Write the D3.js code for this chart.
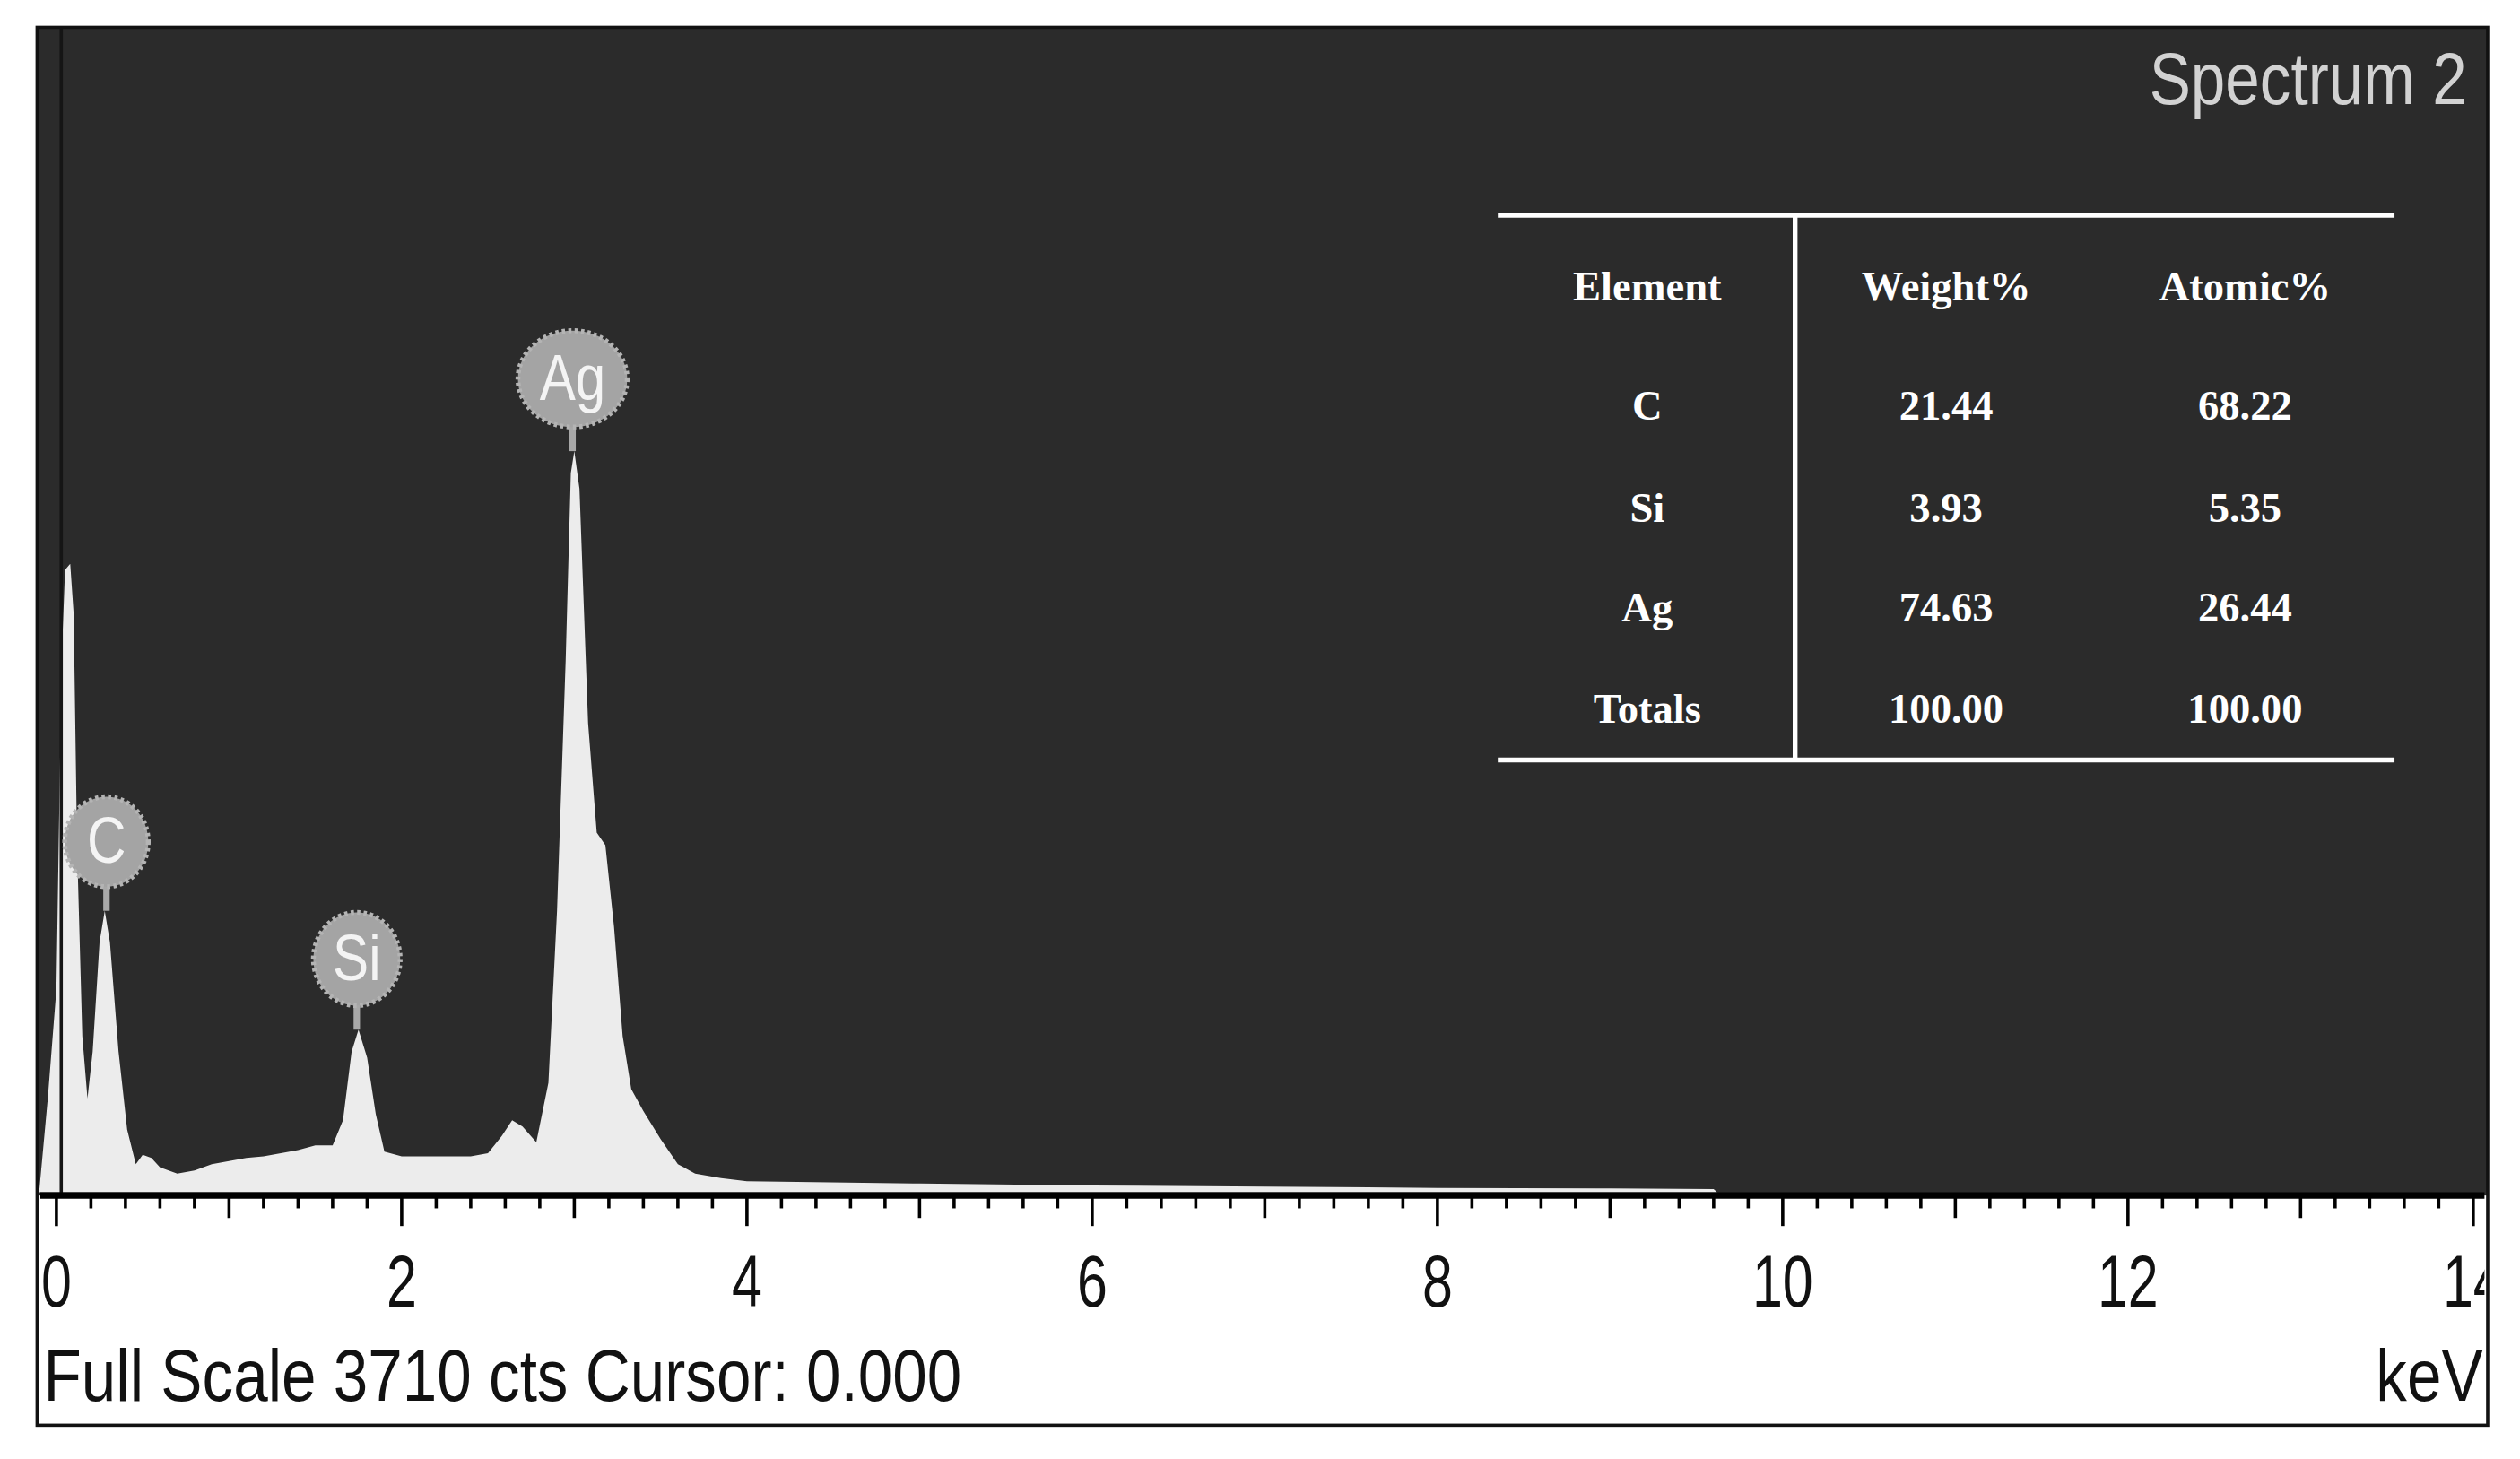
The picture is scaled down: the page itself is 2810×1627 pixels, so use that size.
<!DOCTYPE html>
<html>
<head>
<meta charset="utf-8">
<script src="https://cdn.jsdelivr.net/npm/d3@7"></script>
<style>
  body { margin: 0; background: #fff; }
  svg { display: block; }
</style>
</head>
<body>
<div id="chart"></div>
<script>
// spectrum outline: [keV, counts]
var spectrum = [
  [-0.1, 0], [-0.05, 300], [0.0, 650], [0.03, 1700], [0.05, 1990], [0.08, 2010], [0.1, 1850],
  [0.12, 1100], [0.15, 500], [0.18, 300], [0.21, 450], [0.25, 800], [0.28, 900], [0.31, 800],
  [0.36, 450], [0.41, 200], [0.46, 90], [0.5, 120], [0.55, 110], [0.6, 80], [0.7, 60],
  [0.8, 70], [0.9, 90], [1.0, 100], [1.1, 110], [1.2, 115], [1.3, 125], [1.4, 135],
  [1.5, 150], [1.6, 150], [1.66, 230], [1.71, 450], [1.75, 520], [1.8, 430], [1.85, 250],
  [1.9, 130], [2.0, 115], [2.2, 115], [2.4, 115], [2.5, 125], [2.58, 180], [2.64, 230],
  [2.7, 210], [2.78, 160], [2.85, 350], [2.9, 900], [2.95, 1700], [2.98, 2300], [3.0, 2370],
  [3.03, 2250], [3.08, 1500], [3.13, 1150], [3.18, 1110], [3.23, 850], [3.28, 500],
  [3.33, 330], [3.4, 260], [3.5, 170], [3.6, 90], [3.7, 60], [3.85, 45], [4.0, 35],
  [5.0, 28], [6.0, 22], [7.0, 18], [8.0, 14], [9.0, 12], [9.6, 10], [9.62, 0]
];
var peaks = [
  { el: "C", keV: 0.29, cts: 900, rx: 26, ry: 28 },
  { el: "Si", keV: 1.74, cts: 520, rx: 27, ry: 29 },
  { el: "Ag", keV: 2.99, cts: 2370, rx: 34, ry: 30 }
];
var majorTicks = [0, 2, 4, 6, 8, 10, 12, 14];
var tableHeader = ["Element", "Weight%", "Atomic%"];
var tableRows = [
  ["C", "21.44", "68.22"],
  ["Si", "3.93", "5.35"],
  ["Ag", "74.63", "26.44"],
  ["Totals", "100.00", "100.00"]
];
var fullScale = 3710;

var W = 1568, H = 908;
var svg = d3.select("#chart").append("svg")
  .attr("width", 2810).attr("height", 1627)
  .attr("viewBox", "0 0 " + W + " " + H);

var fL = 23, fR = 1548, fT = 17, axisY = 744, fB = 887;
var x = d3.scaleLinear().domain([0, 14]).range([35, 1539]);
var y = d3.scaleLinear().domain([0, fullScale]).range([742, 20]);
var sans = "Liberation Sans, Arial, sans-serif";

// condensed text: horizontal squeeze like the instrument's font
function narrowText(parent, tx, ty, s, size, anchor, fill, sx) {
  return parent.append("text")
    .attr("transform", "translate(" + tx + "," + ty + ") scale(" + (sx || 0.84) + ",1)")
    .attr("text-anchor", anchor).attr("font-family", sans)
    .attr("font-size", size).attr("fill", fill).text(s);
}

svg.append("rect").attr("x", fL).attr("y", fT).attr("width", fR - fL)
  .attr("height", fB - fT).attr("fill", "#fff");
svg.append("rect").attr("x", fL).attr("y", fT).attr("width", fR - fL)
  .attr("height", axisY - fT).attr("fill", "#2b2b2b");

var plot = svg.append("g");
plot.append("clipPath").attr("id", "clip").append("rect")
  .attr("x", fL + 1).attr("y", fT).attr("width", fR - fL - 2).attr("height", axisY - fT);

var area = d3.area()
  .x(function (d) { return x(d[0]); })
  .y0(y(0)).y1(function (d) { return y(d[1]); });
plot.append("path").datum(spectrum).attr("clip-path", "url(#clip)")
  .attr("d", area).attr("fill", "#ececec");

// zero marker line
plot.append("line").attr("x1", 38).attr("x2", 38).attr("y1", fT).attr("y2", axisY)
  .attr("stroke", "#151515").attr("stroke-width", 2);

// peak labels
var lab = plot.selectAll("g.peak").data(peaks).enter().append("g").attr("class", "peak");
lab.each(function (d) {
  var g = d3.select(this);
  var px = x(d.keV), py = y(d.cts);
  var cy = py - 15 - d.ry;
  g.append("line").attr("x1", px).attr("x2", px).attr("y1", py).attr("y2", cy)
    .attr("stroke", "#a8a8a8").attr("stroke-width", 4);
  g.append("ellipse").attr("cx", px).attr("cy", cy).attr("rx", d.rx).attr("ry", d.ry)
    .attr("fill", "#a4a4a4").attr("stroke", "#b4b4b4").attr("stroke-width", 3)
    .attr("stroke-dasharray", "2,2");
  narrowText(g, px, cy + 13, d.el, 40, "middle", "#f4f4f4");
});

// axis
var ax = svg.append("g");
ax.append("line").attr("x1", fL).attr("x2", fR).attr("y1", axisY).attr("y2", axisY)
  .attr("stroke", "#000").attr("stroke-width", 4);
var minor = d3.range(0, 71).map(function (i) { return i / 5; });
ax.selectAll("line.tick").data(minor).enter().append("line").attr("class", "tick")
  .attr("x1", function (d) { return x(d); }).attr("x2", function (d) { return x(d); })
  .attr("y1", axisY)
  .attr("y2", function (d, i) { return axisY + (i % 10 === 0 ? 19 : i % 5 === 0 ? 14 : 8); })
  .attr("stroke", "#000").attr("stroke-width", 2);
majorTicks.forEach(function (t) {
  narrowText(ax, x(t), 813, t, 46, "middle", "#111", 0.74);
});

svg.append("clipPath").attr("id", "frame").append("rect")
  .attr("x", fL + 2).attr("y", fT).attr("width", fR - fL - 4).attr("height", fB - fT);
ax.attr("clip-path", "url(#frame)");

narrowText(svg, 27, 872, "Full Scale " + fullScale + " cts Cursor: 0.000", 46, "start", "#111");
narrowText(svg, 1545, 872, "keV", 46, "end", "#111");
narrowText(svg, 1535, 65, "Spectrum 2", 46, "end", "#d2d2d2");

// table
var tb = svg.append("g");
var colX = [1025, 1211, 1397], rowY = [187, 261, 325, 387, 450];
[134, 473].forEach(function (yy) {
  tb.append("line").attr("x1", 932).attr("x2", 1490).attr("y1", yy).attr("y2", yy)
    .attr("stroke", "#fff").attr("stroke-width", 3);
});
tb.append("line").attr("x1", 1117).attr("x2", 1117).attr("y1", 134).attr("y2", 473)
  .attr("stroke", "#fff").attr("stroke-width", 3);
var allRows = [tableHeader].concat(tableRows);
allRows.forEach(function (row, ri) {
  tb.selectAll(null).data(row).enter().append("text")
    .attr("x", function (d, i) { return colX[i]; }).attr("y", rowY[ri])
    .attr("text-anchor", "middle")
    .attr("font-family", "Liberation Serif, Times New Roman, serif")
    .attr("font-weight", "bold").attr("font-size", 26).attr("fill", "#fff")
    .text(function (d) { return d; });
});

svg.append("rect").attr("x", fL).attr("y", fT).attr("width", fR - fL)
  .attr("height", fB - fT).attr("fill", "none").attr("stroke", "#111").attr("stroke-width", 2);
</script>
</body>
</html>
